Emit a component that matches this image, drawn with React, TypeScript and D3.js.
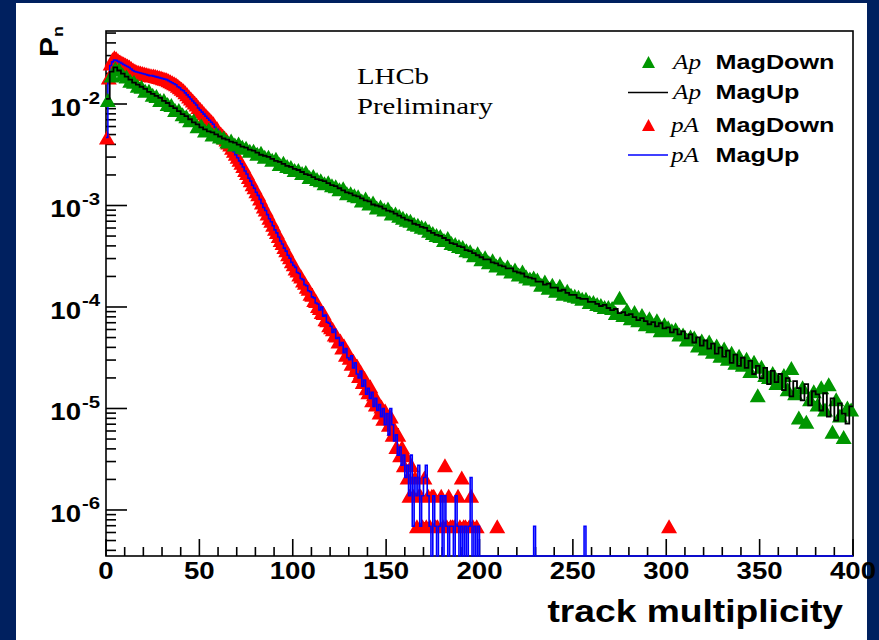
import React from 'react';
import * as d3 from 'd3';

// ---------- data (log10 of Pn) ----------
const X_DOMAIN: [number, number] = [0, 400];
const Y_DOMAIN: [number, number] = [3.52e-7, 0.0524];
const xMajorTicks = [0, 50, 100, 150, 200, 250, 300, 350, 400];
const yDecadeExponents = [-6, -5, -4, -3, -2];

// Ap sample, bins of width 2 from 0 to 400
const apBinWidth = 2;
const apMagUpLog = [
  -1.95, -1.68, -1.64, -1.67, -1.70, -1.73, -1.76, -1.79, -1.81, -1.83,
  -1.85, -1.88, -1.90, -1.92, -1.94, -1.97, -1.99, -2.02, -2.04, -2.07,
  -2.10, -2.12, -2.15, -2.18, -2.20, -2.23, -2.25, -2.27, -2.28, -2.30,
  -2.32, -2.34, -2.35, -2.37, -2.38, -2.40, -2.42, -2.43, -2.45, -2.46,
  -2.48, -2.50, -2.51, -2.52, -2.54, -2.56, -2.57, -2.59, -2.61, -2.62,
  -2.64, -2.65, -2.67, -2.69, -2.70, -2.72, -2.74, -2.75, -2.76, -2.78,
  -2.80, -2.81, -2.83, -2.85, -2.87, -2.88, -2.90, -2.91, -2.93, -2.95,
  -2.96, -2.99, -3.00, -3.01, -3.03, -3.05, -3.06, -3.08, -3.10, -3.12,
  -3.14, -3.15, -3.18, -3.19, -3.21, -3.22, -3.25, -3.27, -3.29, -3.30,
  -3.32, -3.34, -3.37, -3.38, -3.40, -3.41, -3.44, -3.45, -3.47, -3.49,
  -3.51, -3.53, -3.53, -3.56, -3.57, -3.59, -3.60, -3.62, -3.62, -3.65,
  -3.66, -3.67, -3.70, -3.71, -3.72, -3.75, -3.75, -3.78, -3.77, -3.81,
  -3.81, -3.84, -3.83, -3.86, -3.88, -3.88, -3.91, -3.92, -3.92, -3.95,
  -3.95, -3.97, -3.99, -3.98, -4.01, -4.03, -4.02, -4.06, -4.05, -4.08,
  -4.07, -4.10, -4.13, -4.11, -4.14, -4.17, -4.15, -4.19, -4.16, -4.21,
  -4.20, -4.25, -4.22, -4.27, -4.24, -4.31, -4.27, -4.35, -4.30, -4.38,
  -4.33, -4.41, -4.36, -4.46, -4.40, -4.49, -4.43, -4.55, -4.47, -4.58,
  -4.50, -4.60, -4.53, -4.66, -4.58, -4.70, -4.60, -4.76, -4.63, -4.74,
  -4.66, -4.82, -4.70, -4.88, -4.73, -4.80, -4.92, -4.76, -4.97, -4.83,
  -4.86, -5.02, -4.85, -5.08, -4.90, -5.12, -4.95, -5.05, -5.15, -4.98,
];
const apMagDownLog = [
  -1.96, -1.72, -1.65, -1.66, -1.71, -1.73, -1.77, -1.78, -1.82, -1.83,
  -1.87, -1.87, -1.91, -1.92, -1.96, -1.96, -2.00, -2.01, -2.06, -2.06,
  -2.10, -2.12, -2.16, -2.16, -2.22, -2.21, -2.26, -2.25, -2.30, -2.29,
  -2.32, -2.33, -2.37, -2.36, -2.40, -2.39, -2.42, -2.43, -2.46, -2.46,
  -2.49, -2.48, -2.52, -2.52, -2.55, -2.54, -2.59, -2.58, -2.61, -2.62,
  -2.65, -2.65, -2.68, -2.67, -2.72, -2.71, -2.74, -2.75, -2.78, -2.77,
  -2.80, -2.81, -2.84, -2.83, -2.88, -2.88, -2.90, -2.91, -2.95, -2.93,
  -2.98, -2.97, -3.02, -3.01, -3.04, -3.03, -3.08, -3.08, -3.10, -3.12,
  -3.14, -3.15, -3.18, -3.19, -3.21, -3.22, -3.25, -3.27, -3.29, -3.30,
  -3.34, -3.32, -3.37, -3.38, -3.40, -3.41, -3.44, -3.45, -3.49, -3.47,
  -3.53, -3.51, -3.56, -3.54, -3.59, -3.57, -3.62, -3.60, -3.65, -3.63,
  -3.68, -3.65, -3.70, -3.72, -3.71, -3.73, -3.78, -3.75, -3.81, -3.78,
  -3.84, -3.79, -3.87, -3.84, -3.88, -3.89, -3.90, -3.92, -3.92, -3.95,
  -3.95, -3.97, -3.98, -4.00, -4.00, -4.01, -4.06, -3.91, -4.08, -4.03,
  -4.11, -4.05, -4.13, -4.08, -4.17, -4.11, -4.19, -4.13, -4.23, -4.17,
  -4.20, -4.23, -4.22, -4.27, -4.27, -4.32, -4.29, -4.30, -4.38, -4.33,
  -4.41, -4.34, -4.44, -4.38, -4.48, -4.41, -4.51, -4.45, -4.55, -4.48,
  -4.57, -4.51, -4.63, -4.54, -4.87, -4.59, -4.67, -4.69, -4.65, -4.75,
  -4.73, -4.67, -4.81, -4.60, -4.85, -5.09, -4.79, -5.13, -4.91, -4.83,
  -4.96, -4.79, -5.01, -4.76, -5.23, -4.91, -5.07, -5.28, -4.99, -5.01,
];

// pA sample, bins of width 1 from 0 to 200 (null = empty bin)
const paBinWidth = 1;
const paMagUpLog: (number | null)[] = [
  -2.33, -1.73, -1.62, -1.585, -1.566, -1.57, -1.58, -1.59, -1.60, -1.61,
  -1.62, -1.63, -1.64, -1.655, -1.67, -1.68, -1.685, -1.69, -1.695, -1.70,
  -1.705, -1.71, -1.715, -1.72, -1.72, -1.725, -1.73, -1.735, -1.74, -1.745,
  -1.75, -1.755, -1.76, -1.77, -1.78, -1.79, -1.80, -1.81, -1.83, -1.84,
  -1.86, -1.87, -1.89, -1.91, -1.93, -1.95, -1.97, -1.99, -2.01, -2.04,
  -2.06, -2.08, -2.10, -2.12, -2.14, -2.16, -2.18, -2.20, -2.23, -2.25,
  -2.28, -2.30, -2.32, -2.34, -2.36, -2.39, -2.41, -2.44, -2.47, -2.50,
  -2.53, -2.56, -2.59, -2.62, -2.66, -2.69, -2.73, -2.76, -2.80, -2.83,
  -2.87, -2.90, -2.94, -2.98, -3.02, -3.05, -3.09, -3.13, -3.16, -3.20,
  -3.24, -3.27, -3.31, -3.35, -3.38, -3.42, -3.45, -3.49, -3.52, -3.56,
  -3.59, -3.61, -3.66, -3.67, -3.72, -3.73, -3.78, -3.79, -3.84, -3.85,
  -3.90, -3.91, -3.96, -3.97, -4.03, -4.00, -4.09, -4.08, -4.15, -4.16,
  -4.19, -4.25, -4.22, -4.31, -4.30, -4.38, -4.35, -4.45, -4.41, -4.50,
  -4.52, -4.48, -4.60, -4.55, -4.66, -4.70, -4.63, -4.78, -4.72, -4.86,
  -4.80, -4.90, -4.84, -4.98, -4.90, -5.02, -4.96, -5.08, -5.00, -5.16,
  -5.05, -5.26, -5.00, -5.16, -5.32, -5.26, -5.46, -5.38, -5.56, -5.46,
  -5.68, -5.56, -5.86, -5.46, -6.16, -5.68, -5.86, -5.56, -6.16, -5.86,
  -5.68, -5.56, -5.86, -6.16, null, -5.86, -6.16, null, -6.16, -5.86,
  null, -5.86, -6.16, null, -6.16, -6.16, null, -5.86, -6.16, null,
  -6.16, null, -6.16, null, -6.16, -5.68, null, -6.16, null, -6.16,
];
const paMagDownLog: (number | null)[] = [
  -2.33, -1.74, -1.60, -1.56, -1.54, -1.55, -1.57, -1.58, -1.59, -1.60,
  -1.61, -1.62, -1.63, -1.645, -1.66, -1.67, -1.68, -1.685, -1.69, -1.695,
  -1.70, -1.705, -1.71, -1.715, -1.72, -1.72, -1.725, -1.73, -1.735, -1.74,
  -1.745, -1.75, -1.755, -1.765, -1.775, -1.785, -1.795, -1.805, -1.82, -1.835,
  -1.85, -1.865, -1.885, -1.905, -1.925, -1.945, -1.965, -1.985, -2.005, -2.03,
  -2.05, -2.07, -2.09, -2.11, -2.13, -2.15, -2.17, -2.19, -2.22, -2.24,
  -2.27, -2.29, -2.31, -2.33, -2.35, -2.38, -2.40, -2.43, -2.46, -2.49,
  -2.52, -2.55, -2.58, -2.61, -2.65, -2.68, -2.72, -2.75, -2.79, -2.82,
  -2.86, -2.89, -2.93, -2.97, -3.01, -3.04, -3.08, -3.12, -3.15, -3.19,
  -3.23, -3.26, -3.30, -3.34, -3.37, -3.41, -3.44, -3.48, -3.51, -3.55,
  -3.58, -3.62, -3.64, -3.68, -3.70, -3.74, -3.76, -3.80, -3.82, -3.87,
  -3.88, -3.93, -3.94, -3.99, -4.01, -4.05, -4.06, -4.12, -4.13, -4.18,
  -4.20, -4.22, -4.27, -4.28, -4.34, -4.33, -4.40, -4.38, -4.47, -4.44,
  -4.50, -4.56, -4.53, -4.62, -4.58, -4.68, -4.64, -4.74, -4.70, -4.80,
  -4.84, -4.78, -4.92, -4.86, -4.96, -4.93, -5.04, -4.98, -5.10, -5.02,
  -5.10, -5.16, -5.08, -5.26, -5.20, -5.38, -5.26, -5.46, -5.38, -5.56,
  -5.46, -5.68, -5.86, -5.56, -5.86, -5.68, -6.16, -5.86, -5.86, -6.16,
  -5.68, -6.16, -5.86, -6.16, -5.86, -5.86, -6.16, -6.16, null, -5.86,
  -6.16, -5.56, -6.16, -5.86, -6.16, -6.16, -6.16, null, -5.86, -6.16,
  -5.68, -6.16, -6.16, null, -6.16, -5.86, -6.16, null, -6.16, null,
];
// isolated single entries beyond 200: [bin index, log10 Pn]
const paMagUpTail: [number, number][] = [[229, -6.16], [256, -6.16]];
const paMagDownTail: [number, number][] = [[209, -6.16], [301, -6.16]];

const legendEntries = [
  { beam: 'Ap', label: 'MagDown', kind: 'marker', color: '#009600' },
  { beam: 'Ap', label: 'MagUp', kind: 'line', color: '#000000' },
  { beam: 'pA', label: 'MagDown', kind: 'marker', color: '#ff0000' },
  { beam: 'pA', label: 'MagUp', kind: 'line', color: '#0000ff' },
];

// ---------- layout ----------
const W = 879;
const H = 640;
const FRAME = { left: 106, right: 853, top: 31, bottom: 556 };
const SX = 1.2; // horizontal stretch of the lettering
const SANS = '"Liberation Sans", Arial, Helvetica, sans-serif';
const SERIF = '"Liberation Serif", "Times New Roman", serif';

const x = d3.scaleLinear().domain(X_DOMAIN).range([FRAME.left, FRAME.right]);
const y = d3.scaleLog().domain(Y_DOMAIN).range([FRAME.bottom, FRAME.top]);

function fullBins(head: (number | null)[], tail: [number, number][], nBins: number) {
  const arr: (number | null)[] = [];
  for (let i = 0; i < nBins; i++) arr.push(i < head.length ? head[i] : null);
  tail.forEach(([i, v]) => { arr[i] = v; });
  return arr;
}

function stepPath(vals: (number | null)[], width: number) {
  const pts: [number, number | null][] = vals.map((v, i) => [i * width, v]);
  pts.push([vals.length * width, vals[vals.length - 1]]);
  const line = d3
    .line<[number, number | null]>()
    .x((d) => x(d[0]))
    .y((d) => (d[1] == null ? FRAME.bottom : y(Math.pow(10, d[1]))))
    .curve(d3.curveStepAfter);
  return line(pts) || '';
}

function tri(cx: number, cy: number, w = 16, h = 14) {
  return `M${cx},${cy - h / 2}L${cx + w / 2},${cy + h / 2}L${cx - w / 2},${cy + h / 2}Z`;
}

function markerPath(vals: (number | null)[], width: number) {
  let d = '';
  vals.forEach((v, i) => {
    if (v == null) return;
    d += tri(x((i + 0.5) * width), y(Math.pow(10, v)));
  });
  return d;
}

const T = ({ x: tx, y: ty, children, size, family = SANS, weight = 'bold', style = 'normal', anchor = 'start' }: any) => (
  <text
    transform={`translate(${tx},${ty}) scale(${SX},1)`}
    fontFamily={family}
    fontSize={size}
    fontWeight={weight}
    fontStyle={style}
    textAnchor={anchor}
    fill="#000"
  >
    {children}
  </text>
);

export default function App() {
  const paUp = fullBins(paMagUpLog, paMagUpTail, 400);
  const paDown = fullBins(paMagDownLog, paMagDownTail, 400);

  const yMinor: number[] = [];
  for (let e = -7; e <= -2; e++) {
    for (let m = 2; m <= 9; m++) {
      const v = m * Math.pow(10, e);
      if (v > Y_DOMAIN[0] && v < Y_DOMAIN[1]) yMinor.push(v);
    }
  }
  const xMinor = d3.range(0, 401, 10).filter((v) => v % 50 !== 0);

  const legendRowY = [62, 92.5, 125, 155];

  return (
    <svg width={W} height={H} style={{ position: 'absolute', left: 0, top: 0 }}>
      <rect x={0} y={0} width={W} height={H} fill="#00205f" />
      <rect x={16} y={3} width={851} height={H - 3} fill="#ffffff" />

      {/* frame and axes */}
      <g stroke="#000" strokeWidth={1.6} fill="none">
        <rect x={FRAME.left} y={FRAME.top} width={FRAME.right - FRAME.left} height={FRAME.bottom - FRAME.top} />
        {xMajorTicks.map((t) => (
          <line key={'xM' + t} x1={x(t)} x2={x(t)} y1={FRAME.bottom} y2={FRAME.bottom - 17} />
        ))}
        {xMinor.map((t) => (
          <line key={'xm' + t} x1={x(t)} x2={x(t)} y1={FRAME.bottom} y2={FRAME.bottom - 9} />
        ))}
        {yDecadeExponents.map((e) => (
          <line key={'yM' + e} x1={FRAME.left} x2={FRAME.left + 21} y1={y(Math.pow(10, e))} y2={y(Math.pow(10, e))} />
        ))}
        {yMinor.map((v, i) => (
          <line key={'ym' + i} x1={FRAME.left} x2={FRAME.left + 10} y1={y(v)} y2={y(v)} />
        ))}
      </g>

      {/* tick labels */}
      {xMajorTicks.map((t) => (
        <T key={'xl' + t} x={x(t)} y={579} size={23} anchor="middle">{t}</T>
      ))}
      {yDecadeExponents.map((e) => (
        <g key={'yl' + e}>
          <T x={81} y={y(Math.pow(10, e)) + 12} size={23} anchor="end">10</T>
          <T x={82} y={y(Math.pow(10, e)) - 0.5} size={17}>{String(e)}</T>
        </g>
      ))}

      {/* data */}
      <path d={markerPath(paDown, paBinWidth)} fill="#ff0000" />
      <path d={stepPath(paUp, paBinWidth)} fill="none" stroke="#0000ff" strokeWidth={1.6} />
      <path d={markerPath(apMagDownLog, apBinWidth)} fill="#009600" />
      <path d={stepPath(apMagUpLog, apBinWidth)} fill="none" stroke="#000" strokeWidth={1.8} />

      {/* titles */}
      <T x={843} y={622} size={31} anchor="end">track multiplicity</T>
      <text transform="translate(58,57) rotate(-90) scale(1.2,1)" fontFamily={SANS} fontWeight="bold" fontSize={25}>
        P<tspan fontSize={15} dy={5}>n</tspan>
      </text>

      <T x={357} y={84} size={24} family={SERIF} weight="normal">LHCb</T>
      <T x={357} y={114} size={24} family={SERIF} weight="normal">Preliminary</T>

      {/* legend */}
      {legendEntries.map((en, i) => {
        const ry = legendRowY[i];
        return (
          <g key={'lg' + i}>
            {en.kind === 'marker' ? (
              <path d={tri(648.5, ry, 13, 12)} fill={en.color} />
            ) : (
              <line x1={628} x2={668} y1={ry} y2={ry} stroke={en.color} strokeWidth={1.6} />
            )}
            <T x={en.beam === 'Ap' ? 673 : 671} y={ry + 6.5} size={21} family={SERIF} weight="normal" style="italic">{en.beam}</T>
            <T x={715.5} y={ry + 6.5} size={21}>{en.label}</T>
          </g>
        );
      })}
    </svg>
  );
}
